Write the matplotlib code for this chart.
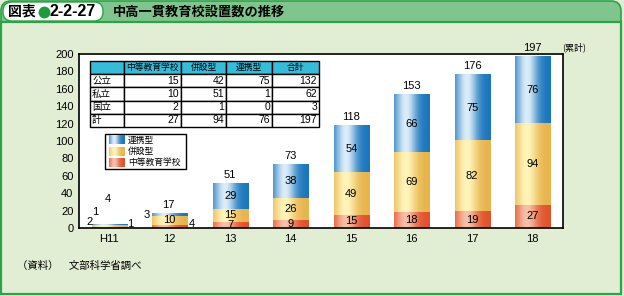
import numpy as np
import matplotlib.pyplot as plt
from matplotlib.colors import to_rgb
from matplotlib.patches import Rectangle, FancyBboxPatch

plt.rcParams['font.family'] = ['Liberation Sans', 'Noto Sans CJK JP', 'DejaVu Sans']
JP = ['Noto Sans CJK JP', 'DejaVu Sans']

# data
years = ['H11', '12', '13', '14', '15', '16', '17', '18']
chuto = [1, 4, 7, 9, 15, 18, 19, 27]        # 中等教育学校
heisetsu = [2, 10, 15, 26, 49, 69, 82, 94]  # 併設型
renkei = [1, 3, 29, 38, 54, 66, 75, 76]     # 連携型

tbl_rows = ['公立', '私立', '国立', '計']
tbl_cols = ['中等教育学校', '併設型', '連携型', '合計']
tbl_vals = [[15, 42, 75, 132],
            [10, 51, 1, 62],
            [2, 1, 0, 3],
            [27, 94, 76, 197]]

BG = '#e2eed3'
GREEN = '#2aa447'
HEAD = '#80c58d'

# dark edge / light centre for the gradient fills
grads = {
    '中等教育学校': ('#e0522a', '#f9c0a8'),
    '併設型': ('#e8b44c', '#fff5ba'),
    '連携型': ('#1a76bd', '#dcedfa'),
}


def grad_img(dark, light, n=64):
    d = np.array(to_rgb(dark))
    l = np.array(to_rgb(light))
    t = np.linspace(0, 1, n)
    m = np.exp(-((t - 0.33) / 0.3) ** 2)
    m = (m - m.min()) / (m.max() - m.min())
    return (d[None, :] * (1 - m[:, None]) + l[None, :] * m[:, None])[None, :, :]


W, H = 624, 296
fig = plt.figure(figsize=(W / 100, H / 100), dpi=100, facecolor=BG)

# frame and header drawn in pixel coordinates
bg = fig.add_axes([0, 0, 1, 1], zorder=0)
bg.set_xlim(0, W)
bg.set_ylim(H, 0)
bg.axis('off')
bg.add_patch(FancyBboxPatch((1, 1), 620, 40, boxstyle='round,pad=0,rounding_size=10',
                            fc=HEAD, ec=GREEN, lw=1.2))
bg.add_patch(Rectangle((1.6, 22), 618.8, 30, fc=BG, ec='none'))
bg.add_patch(Rectangle((1, 22), 620, 272, fc='none', ec=GREEN, lw=1.6))
bg.add_patch(FancyBboxPatch((3, 2), 100, 19, boxstyle='round,pad=0,rounding_size=9',
                            fc='white', ec=GREEN, lw=1.0))
bg.text(8, 12, '図表', family=JP, fontsize=10, weight='bold', va='center')
bg.plot([43.5], [11.5], 'o', ms=7.5, color='#1a9c3e')
bg.text(50, 12, '2-2-27', fontsize=11.5, weight='bold', va='center')
bg.text(113, 12, '中高一貫教育校設置数の推移', family=JP, fontsize=9.5,
        weight='bold', va='center')
bg.text(17, 266, '（資料）　文部科学省調べ', family=JP, fontsize=7.5, va='center')

ax = fig.add_axes([79 / W, (H - 228) / H, 484 / W, 174 / H], zorder=1)
ax.set_facecolor('white')
for s in ax.spines.values():
    s.set_linewidth(1.2)

x = np.arange(len(years))
bw = 0.58
stack = [('中等教育学校', chuto), ('併設型', heisetsu), ('連携型', renkei)]
bottom = np.zeros(len(years))
for name, vals in stack:
    img = grad_img(*grads[name])
    for i, v in enumerate(vals):
        ax.imshow(img, extent=[x[i] - bw / 2, x[i] + bw / 2, bottom[i], bottom[i] + v],
                  aspect='auto', zorder=2, interpolation='bilinear')
    bottom = bottom + np.array(vals)
totals = bottom

FS = 8
# value labels for the taller bars
for i in range(len(years)):
    if totals[i] < 40:
        continue
    b = 0
    for name, vals in stack:
        v = vals[i]
        ax.text(x[i], b + v / 2, str(v), ha='center', va='center', fontsize=FS, zorder=5)
        b += v
    ax.text(x[i], totals[i] + 10, str(int(totals[i])), ha='center', va='center',
            fontsize=FS, zorder=5)

# small bars: labels outside
ax.text(x[0] - 0.28, 7, str(heisetsu[0]), ha='right', va='center', fontsize=FS)
ax.text(x[0] - 0.23, 18, str(renkei[0]), ha='center', va='center', fontsize=FS)
ax.text(x[0] - 0.02, 33, str(int(totals[0])), ha='center', va='center', fontsize=FS)
ax.text(x[0] + 0.30, 5, str(chuto[0]), ha='left', va='center', fontsize=FS)
ax.text(x[1] - 0.33, 15, str(renkei[1]), ha='right', va='center', fontsize=FS)
ax.text(x[1], 9, str(heisetsu[1]), ha='center', va='center', fontsize=FS, zorder=5)
ax.text(x[1] + 0.31, 5, str(chuto[1]), ha='left', va='center', fontsize=FS)
ax.text(x[1] - 0.03, 26, str(int(totals[1])), ha='center', va='center', fontsize=FS)

ax.set_yticks(np.arange(0, 201, 20))
ax.set_xticks(x)
ax.set_xticklabels(years)
ax.tick_params(length=0, labelsize=8, pad=4)

ax.text(0.998, 1.04, '(累計)', transform=ax.transAxes, family=JP, fontsize=6.5,
        ha='left', va='center')

# table
tb = ax.table(cellText=[[r] + [str(v) for v in row] for r, row in zip(tbl_rows, tbl_vals)],
              colLabels=[''] + tbl_cols,
              colWidths=[34, 57, 45, 46, 47],
              bbox=[11 / 484, 101 / 174, 229 / 484, 66 / 174], zorder=6)
tb.auto_set_font_size(False)
for (r, c), cell in tb.get_celld().items():
    cell.set_linewidth(1.0)
    cell.set_edgecolor('black')
    txt = cell.get_text()
    txt.set_fontsize(7.5)
    if r == 0:
        cell.set_facecolor('#35bcd9')
        txt.set_fontfamily(JP)
        txt.set_fontsize(6.3)
        cell._loc = 'center'
        txt.set_ha('center')
    elif c == 0:
        txt.set_fontfamily(JP)
        txt.set_fontsize(6.8)
        cell._loc = 'left'
        txt.set_ha('left')
        cell.PAD = 0.06
    else:
        cell._loc = 'right'
        txt.set_ha('right')
        cell.PAD = 0.04

# legend drawn by hand with gradient swatches
lx0, lx1 = 26 / 484, 107 / 484
ly0, ly1 = 59 / 174, 94 / 174
ax.add_patch(Rectangle((lx0, ly0), lx1 - lx0, ly1 - ly0, transform=ax.transAxes,
                       fc='white', ec='black', lw=1.0, zorder=6))
leg = [('連携型', 88), ('併設型', 76.5), ('中等教育学校', 65.5)]
for name, ypix in leg:
    yc = ypix / 174
    sx, sw, sh = 30 / 484, 16 / 484, 9 / 174
    ax.imshow(grad_img(*grads[name]), extent=[sx, sx + sw, yc - sh / 2, yc + sh / 2],
              transform=ax.transAxes, aspect='auto', zorder=7)
    ax.text(49 / 484, yc, name, transform=ax.transAxes, family=JP, fontsize=6.3,
            va='center', ha='left', zorder=7)

ax.set_xlim(-0.5, len(years) - 0.5)
ax.set_ylim(0, 200)

fig.savefig('out.png', dpi=100, facecolor=BG)
